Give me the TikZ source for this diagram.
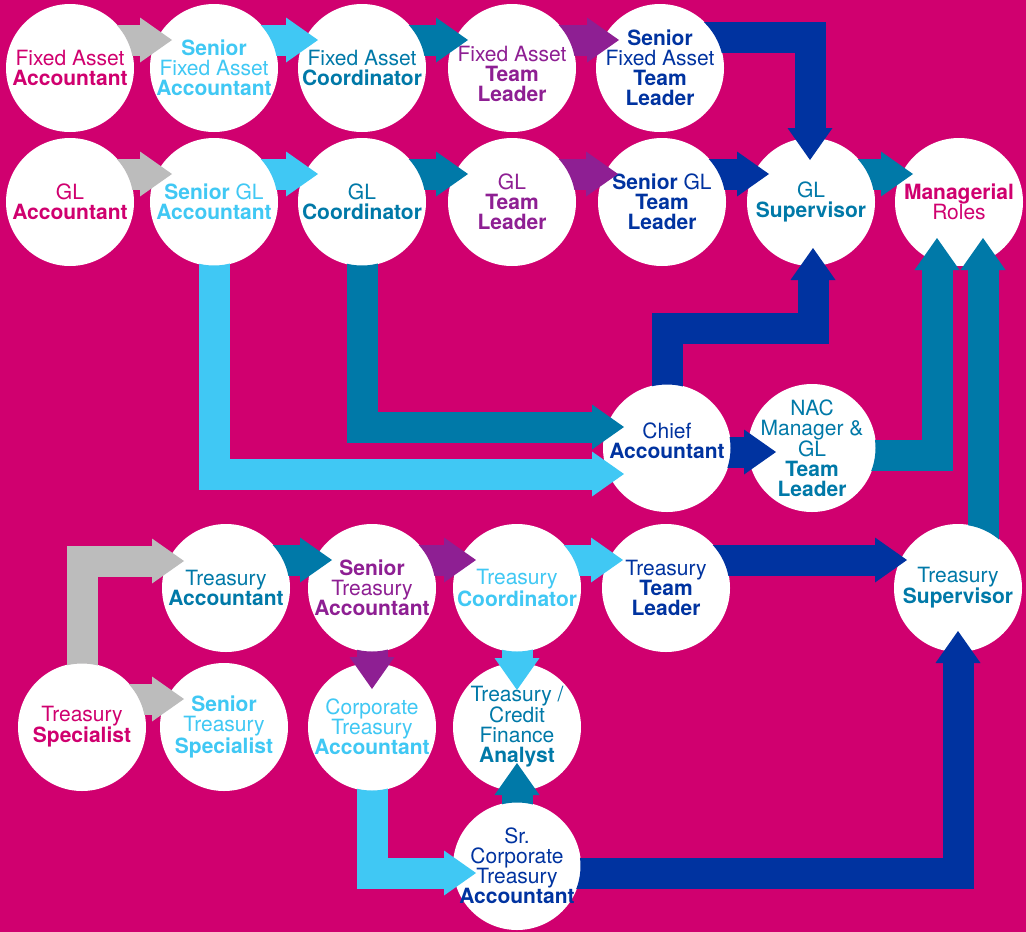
\documentclass[tikz,border=0pt]{standalone}
\usepackage{fontspec}
\setmainfont{TeX Gyre Heros}
\usetikzlibrary{positioning, calc, arrows.meta}
\definecolor{cpink}{HTML}{D0006F}
\definecolor{cgrey}{HTML}{BCBCBC}
\definecolor{csky}{HTML}{40C8F4}
\definecolor{cteal}{HTML}{0079A8}
\definecolor{cplum}{HTML}{8E1F93}
\definecolor{cnavy}{HTML}{0033A0}
\newcommand\rolefont{\fontsize{21}{20}\selectfont}
\tikzset{lrole/.style n args = {3}{circle, fill=white, minimum size=128pt, inner sep=0pt,
                                  label={[text=#1, align=center, font=\rolefont, yshift=#3]center:#2}},
         role/.style 2 args = {lrole={#1}{#2}{0pt}},
         flow/.style = {draw=#1, line width=31pt,
                        -{Triangle[length=32pt 0 0, width=45pt 0 0, line width=0pt 0 0]}}}
% arrow drawn over everything but cut away inside its source circle
\newcommand\promote[3]{%
    \begin{scope}[even odd rule]
        \clip (0,0) rectangle (1026,932) (#2.center) circle[radius=63.5pt];
        \draw[flow=#1] #3;
    \end{scope}}

\begin{document}
\begin{tikzpicture}[x=1pt, y=-1pt]
                \fill[cpink] (0,0) rectangle (1026,932);
                \useasboundingbox (0,0) rectangle (1026,932);
                % fixed asset track
                \node [role={cpink}{Fixed Asset\\\textbf{Accountant}}] (faa) at (70,68) {};
                \node [role={csky}{\textbf{Senior}\\Fixed Asset\\\textbf{Accountant}}] (sfaa) at (214,68) {};
                \node [role={cteal}{Fixed Asset\\\textbf{Coordinator}}] (fac) at (362,68) {};
                \node [lrole={cplum}{Fixed Asset\\\textbf{Team}\\\textbf{Leader}}{-6pt}] (fatl) at (512,68) {};
                \node [role={cnavy}{\textbf{Senior}\\Fixed Asset\\\textbf{Team}\\\textbf{Leader}}] (sfatl) at (660,68) {};
                % general ledger track
                \node [role={cpink}{GL\\\textbf{Accountant}}] (gla) at (70,202) {};
                \node [role={csky}{\textbf{Senior} GL\\\textbf{Accountant}}] (sgla) at (214,202) {};
                \node [role={cteal}{GL\\\textbf{Coordinator}}] (glc) at (362,202) {};
                \node [role={cplum}{GL\\\textbf{Team}\\\textbf{Leader}}] (gltl) at (512,202) {};
                \node [role={cnavy}{\textbf{Senior} GL\\\textbf{Team}\\\textbf{Leader}}] (sgltl) at (662,202) {};
                \node [role={cteal}{GL\\\textbf{Supervisor}}] (gls) at (811,202) {};
                \node [role={cpink}{\textbf{Managerial}\\Roles}] (mr) at (959,202) {};
                \node [lrole={cnavy}{Chief\\\textbf{Accountant}}{7pt}] (chief) at (667,448) {};
                \node [role={cteal}{NAC\\Manager \&\\GL\\\textbf{Team}\\\textbf{Leader}}] (nac) at (812,448) {};
                % treasury track
                \node [role={cteal}{Treasury\\\textbf{Accountant}}] (ta) at (226,588) {};
                \node [role={cplum}{\textbf{Senior}\\Treasury\\\textbf{Accountant}}] (sta) at (372,588) {};
                \node [role={csky}{Treasury\\\textbf{Coordinator}}] (tc) at (517,588) {};
                \node [role={cnavy}{Treasury\\\textbf{Team}\\\textbf{Leader}}] (ttl) at (666,588) {};
                \node [role={cteal}{Treasury\\\textbf{Supervisor}}] (ts) at (958,588) {};
                \node [role={cpink}{Treasury\\\textbf{Specialist}}] (tspec) at (82,727) {};
                \node [role={csky}{\textbf{Senior}\\Treasury\\\textbf{Specialist}}] (sts) at (224,727) {};
                \node [role={csky}{Corporate\\Treasury\\\textbf{Accountant}}] (cta) at (372,727) {};
                \node [role={cteal}{Treasury /\\Credit\\Finance\\\textbf{Analyst}}] (tcfa) at (517,727) {};
                \node [role={cnavy}{Sr.\\Corporate\\Treasury\\\textbf{Accountant}}] (scta) at (517,866) {};
                % straight steps along a row
                \foreach \a/\b/\c/\d in {faa/sfaa/cgrey/42, sfaa/fac/csky/44, fac/fatl/cteal/44, fatl/sfatl/cplum/41,
                                         gla/sgla/cgrey/42, sgla/glc/csky/44, glc/gltl/cteal/44, gltl/sgltl/cplum/44,
                                         sgltl/gls/cnavy/42, gls/mr/cteal/46, ta/sta/cteal/40, sta/tc/cplum/41,
                                         tc/ttl/csky/43, ttl/ts/cnavy/51, tspec/sts/cgrey/40} {
                    \promote{\c}{\a}{($(\a)+(0,-28)$) -- ($(\b)+(-\d,-28)$)}
                }
                % bends and vertical steps
                \promote{cnavy}{sfatl}{($(sfatl)+(0,-31)$) -| ($(gls)+(-1,-42)$)}
                \promote{csky}{sgla}{(sgla.center) |- ($(chief)+(-43,26)$)}
                \promote{cteal}{glc}{(glc.center) |- ($(chief)+(-43,-21)$)}
                \promote{cnavy}{chief}{(chief.center) -- ++(0,-120) -| ($(gls)+(2,46)$)}
                \promote{cnavy}{chief}{($(chief)+(0,4)$) -- ($(nac)+(-36,4)$)}
                \promote{cteal}{nac}{($(nac)+(0,7)$) -| ($(mr)+(-22,36)$)}
                \promote{cteal}{ts}{($(ts)+(25,0)$) -- ($(mr)+(24,36)$)}
                \promote{cgrey}{tspec}{(tspec.center) |- ($(ta)+(-42,-27)$)}
                \promote{cplum}{sta}{(sta.center) -- ($(cta)+(0,-38)$)}
                \promote{csky}{tc}{(tc.center) -- ($(tcfa)+(0,-37)$)}
                \promote{cteal}{scta}{(scta.center) -- ($(tcfa)+(0,36)$)}
                \promote{csky}{cta}{(cta.center) |- ($(scta)+(-41,7)$)}
                \promote{cnavy}{scta}{($(scta)+(0,7)$) -| ($(ts)+(0,43)$)}
            \end{tikzpicture}
\end{document}
